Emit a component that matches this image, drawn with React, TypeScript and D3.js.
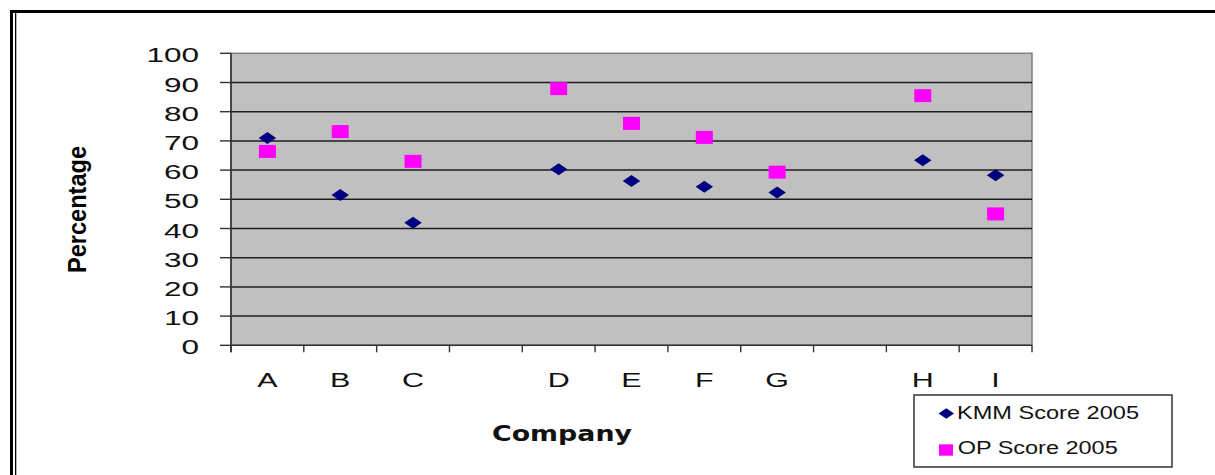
import React from "react";
import * as d3 from "d3";

// Companies along the x axis; the empty slots are spacer columns with no data.
const categories: string[] = ["A", "B", "C", "", "D", "E", "F", "G", "", "H", "I"];
const kmmScores: (number | null)[] = [71, 51.5, 42, null, 60.3, 56.3, 54.3, 52.3, null, 63.4, 58.2];
const opScores: (number | null)[] = [66.4, 73.2, 63, null, 87.9, 76, 71.2, 59.3, null, 85.5, 45];
const yTicks: number[] = [0, 10, 20, 30, 40, 50, 60, 70, 80, 90, 100];
const seriesNames: string[] = ["KMM Score 2005", "OP Score 2005"];

const W = 1215;
const H = 475;
const plot = { left: 231, right: 1032, top: 53.3, bottom: 345.3 };
const FONT = "'Liberation Sans', Arial, sans-serif";
const NAVY = "#000080";
const MAGENTA = "#FF00FF";

export default function App() {
  const x = d3
    .scaleBand<number>()
    .domain(categories.map((_, i) => i))
    .range([plot.left, plot.right])
    .padding(0);
  const y = d3.scaleLinear().domain([0, 100]).range([plot.bottom, plot.top]);
  const bw = x.bandwidth();
  const cx = (i: number) => (x(i) as number) + bw / 2;
  const boundaries = d3.range(categories.length + 1).map((i) => plot.left + i * bw);

  const diamond = (px: number, py: number, w: number, h: number) =>
    `M${px - w / 2},${py} L${px},${py - h / 2} L${px + w / 2},${py} L${px},${py + h / 2} Z`;

  return (
    <div style={{ position: "absolute", left: 0, top: 0 }}>
      <svg width={W} height={H} style={{ display: "block", background: "#fff" }}>
        {/* outer frame */}
        <rect x={10} y={10} width={W - 10} height={3} fill="#000" />
        <rect x={10} y={10} width={3} height={H - 10} fill="#000" />
        <rect x={15} y={13} width={1.3} height={H - 13} fill="#000" />

        {/* plot area */}
        <rect
          x={plot.left}
          y={plot.top}
          width={plot.right - plot.left}
          height={plot.bottom - plot.top}
          fill="#C0C0C0"
          stroke="#808080"
          strokeWidth={1.5}
        />

        {/* horizontal gridlines */}
        {yTicks
          .filter((t) => t > 0 && t < 100)
          .map((t) => (
            <line
              key={`g${t}`}
              x1={plot.left}
              x2={plot.right}
              y1={y(t)}
              y2={y(t)}
              stroke="#1e1e1e"
              strokeWidth={1.5}
            />
          ))}

        {/* axes */}
        <line x1={plot.left} x2={plot.left} y1={plot.top} y2={plot.bottom + 7} stroke="#333" strokeWidth={1.6} />
        <line x1={plot.left} x2={plot.right} y1={plot.bottom} y2={plot.bottom} stroke="#333" strokeWidth={1.6} />

        {/* y ticks and labels */}
        {yTicks.map((t) => (
          <g key={`y${t}`}>
            <line x1={220} x2={plot.left} y1={y(t)} y2={y(t)} stroke="#333" strokeWidth={1.4} />
            <g transform={`translate(199,${y(t) + 9}) scale(1.5,1)`}>
              <text textAnchor="end" fontFamily={FONT} fontSize={21} fill="#111">
                {t}
              </text>
            </g>
          </g>
        ))}

        {/* x ticks at category boundaries */}
        {boundaries.map((bx, i) => (
          <line key={`xt${i}`} x1={bx} x2={bx} y1={plot.bottom} y2={plot.bottom + 7} stroke="#333" strokeWidth={1.4} />
        ))}

        {/* category labels */}
        {categories.map((c, i) =>
          c ? (
            <g key={`xl${i}`} transform={`translate(${cx(i)},387) scale(1.45,1)`}>
              <text textAnchor="middle" fontFamily={FONT} fontSize={21} fill="#111">
                {c}
              </text>
            </g>
          ) : null
        )}

        {/* axis titles */}
        <text
          transform="translate(86,209.5) rotate(-90)"
          textAnchor="middle"
          fontFamily={FONT}
          fontWeight="bold"
          fontSize={25}
          textLength={127}
          lengthAdjust="spacingAndGlyphs"
          fill="#000"
        >
          Percentage
        </text>
        <text
          x={492}
          y={441}
          fontFamily="'DejaVu Sans', Verdana, sans-serif"
          fontWeight="bold"
          fontSize={21}
          textLength={140}
          lengthAdjust="spacingAndGlyphs"
          fill="#111"
        >
          Company
        </text>

        {/* OP score markers */}
        {opScores.map((v, i) =>
          v == null ? null : (
            <rect key={`op${i}`} x={cx(i) - 8.5} y={y(v) - 6.5} width={17} height={13} fill={MAGENTA} />
          )
        )}

        {/* KMM score markers */}
        {kmmScores.map((v, i) =>
          v == null ? null : <path key={`k${i}`} d={diamond(cx(i), y(v), 17.5, 12)} fill={NAVY} />
        )}

        {/* legend */}
        <rect x={914} y={395} width={258} height={72} fill="#fff" stroke="#333" strokeWidth={1.5} />
        <path d={diamond(946.3, 413.5, 15.5, 10.5)} fill={NAVY} />
        <text
          x={957}
          y={419.3}
          fontFamily={FONT}
          fontSize={17.5}
          textLength={182}
          lengthAdjust="spacingAndGlyphs"
          fill="#111"
        >
          {seriesNames[0]}
        </text>
        <rect x={939} y={444.3} width={14} height={11.4} fill={MAGENTA} />
        <text
          x={957.7}
          y={454.3}
          fontFamily={FONT}
          fontSize={17.5}
          textLength={160}
          lengthAdjust="spacingAndGlyphs"
          fill="#111"
        >
          {seriesNames[1]}
        </text>
      </svg>
    </div>
  );
}
